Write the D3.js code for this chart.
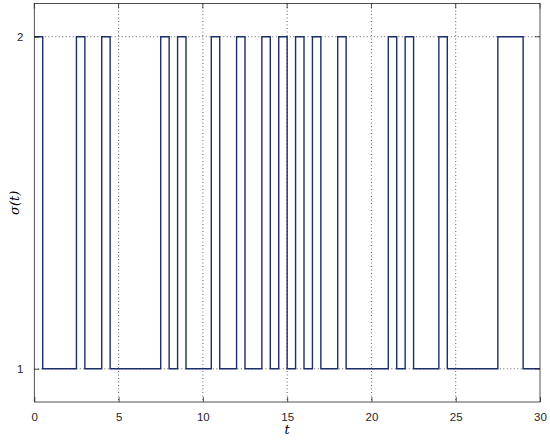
<!DOCTYPE html>
<html>
<head>
<meta charset="utf-8">
<script src="https://cdn.jsdelivr.net/npm/d3@7"></script>
<style>
  body { margin: 0; background: #fff; }
  text { font-family: "Liberation Sans", Arial, sans-serif; }
</style>
</head>
<body>
<div id="chart"></div>
<script>
// switching instants and the mode held from each instant on
var switchTimes = [0, 0.5, 2.5, 3, 4, 4.5, 7.5, 8, 8.5, 9, 10.5, 11, 12, 12.5, 13.5, 14, 14.5, 15,
                   15.5, 16, 16.5, 17, 18, 18.5, 21, 21.5, 22, 22.5, 24, 24.5, 27.5, 29, 30];
var modes = [2, 1, 2, 1, 2, 1, 2, 1, 2, 1, 2, 1, 2, 1, 2, 1, 2, 1,
             2, 1, 2, 1, 2, 1, 2, 1, 2, 1, 2, 1, 2, 1, 1];
var xTicks = [0, 5, 10, 15, 20, 25, 30];
var yTicks = [1, 2];

var margin = { top: 3.5, right: 10, bottom: 38, left: 34.3 };
var width = 550 - margin.left - margin.right,
    height = 440 - margin.top - margin.bottom;

var svg = d3.select('#chart').append('svg')
    .attr('width', 550)
    .attr('height', 440);
var g = svg.append('g')
    .attr('transform', 'translate(' + margin.left + ',' + margin.top + ')');

var x = d3.scaleLinear().domain([0, 30]).range([0, width]);
var y = d3.scaleLinear().domain([0.9, 2.1]).range([height, 0]);

var data = switchTimes.map(function(t, i) { return { t: t, m: modes[i] }; });

// grid
g.append('g').selectAll('line.gx')
    .data(xTicks.slice(1, -1))
    .enter().append('line')
    .attr('x1', function(d) { return x(d); })
    .attr('x2', function(d) { return x(d); })
    .attr('y1', 0).attr('y2', height)
    .attr('stroke', '#333').attr('stroke-width', 0.8)
    .attr('stroke-dasharray', '1,2.5');
g.append('g').selectAll('line.gy')
    .data(yTicks)
    .enter().append('line')
    .attr('x1', 0).attr('x2', width)
    .attr('y1', function(d) { return y(d); })
    .attr('y2', function(d) { return y(d); })
    .attr('stroke', '#333').attr('stroke-width', 0.8)
    .attr('stroke-dasharray', '1,2.5');

// signal
var line = d3.line()
    .x(function(d) { return x(d.t); })
    .y(function(d) { return y(d.m); })
    .curve(d3.curveStepAfter);
g.append('path')
    .datum(data)
    .attr('d', line)
    .attr('fill', 'none')
    .attr('stroke', '#1c2e6b')
    .attr('stroke-width', 1.4);

// axes (ticks inside, MATLAB style)
var xAxis = d3.axisBottom(x).tickValues(xTicks).tickFormat(d3.format('d'))
    .tickSizeInner(-5).tickSizeOuter(0).tickPadding(11);
var yAxis = d3.axisLeft(y).tickValues(yTicks).tickFormat(d3.format('d'))
    .tickSizeInner(-5).tickSizeOuter(0).tickPadding(11);

var gx = g.append('g').attr('transform', 'translate(0,' + height + ')').call(xAxis);
var gy = g.append('g').call(yAxis);
[gx, gy].forEach(function(a) {
    a.select('.domain').remove();
    a.selectAll('line').attr('stroke', '#262626').attr('stroke-width', 0.8);
    a.selectAll('text').attr('font-size', 11.5).attr('fill', '#262626')
        .style('font-family', '"Liberation Sans", Arial, sans-serif');
});

// top/right ticks
g.append('g').selectAll('line')
    .data(xTicks)
    .enter().append('line')
    .attr('x1', function(d) { return x(d); }).attr('x2', function(d) { return x(d); })
    .attr('y1', 0).attr('y2', 5)
    .attr('stroke', '#262626').attr('stroke-width', 0.8);
g.append('g').selectAll('line')
    .data(yTicks)
    .enter().append('line')
    .attr('x1', width).attr('x2', width - 5)
    .attr('y1', function(d) { return y(d); }).attr('y2', function(d) { return y(d); })
    .attr('stroke', '#262626').attr('stroke-width', 0.8);

// box
g.append('rect')
    .attr('width', width).attr('height', height)
    .attr('fill', 'none').attr('stroke', '#262626').attr('stroke-width', 0.8);

// labels
svg.append('text')
    .attr('x', margin.left + x(15)).attr('y', 434)
    .attr('text-anchor', 'middle')
    .attr('font-size', 13).attr('font-style', 'italic')
    .style('font-family', '"DejaVu Serif", serif')
    .text('t');
svg.append('text')
    .attr('transform', 'translate(19,' + (margin.top + y(1.5)) + ') rotate(-90)')
    .attr('text-anchor', 'middle')
    .attr('font-size', 13).attr('font-style', 'italic')
    .style('font-family', '"DejaVu Serif", serif')
    .text('σ(t)');
</script>
</body>
</html>
